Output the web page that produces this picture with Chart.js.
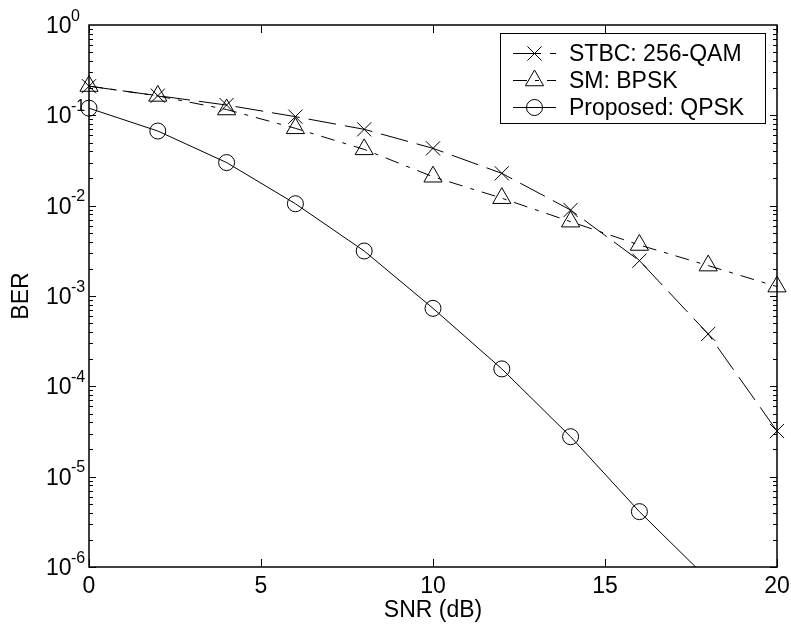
<!DOCTYPE html>
<html>
<head>
<meta charset="utf-8">
<title>BER vs SNR</title>
<script src="https://cdn.jsdelivr.net/npm/chart.js@4.4.1/dist/chart.umd.min.js"></script>
<style>
  html, body { margin: 0; padding: 0; background: #fff; }
  canvas { display: block; }
</style>
</head>
<body>
<canvas id="berChart" width="791" height="633"></canvas>
<script>
// SNR grid (dB) and BER curves
const snr = [0, 2, 4, 6, 8, 10, 12, 14, 16, 18, 20];
const snrProposed = [0, 2, 4, 6, 8, 10, 12, 14, 16, 18];
const berStbc = [0.21, 0.165, 0.13, 0.0966, 0.070, 0.0431, 0.0228, 0.00895, 0.00246, 3.8e-4, 3.2e-5];
const berSm = [0.211, 0.164, 0.116, 0.0718, 0.042, 0.0209, 0.0121, 0.00665, 0.00367, 0.00217, 0.00127];
const berProposed = [0.120, 0.067, 0.030, 0.0105, 0.00315, 7.3e-4, 1.56e-4, 2.77e-5, 4.1e-6, 7.3e-7];

const seriesLabels = ['STBC: 256-QAM', 'SM: BPSK', 'Proposed: QPSK'];
const xTickValues = [0, 5, 10, 15, 20];
const xTickLabels = ['0', '5', '10', '15', '20'];
const yTickExponents = [0, -1, -2, -3, -4, -5, -6];
const xTitle = 'SNR (dB)';
const yTitle = 'BER';

const FONT = '"Liberation Sans", Arial, Helvetica, sans-serif';

const clipArea = { left: 20, right: 20, top: 20, bottom: 0 };
const common = {
  borderColor: '#000',
  borderWidth: 1,
  pointBorderColor: '#000',
  pointBorderWidth: 1,
  pointBackgroundColor: 'rgba(0,0,0,0)',
  tension: 0,
  fill: false,
  clip: clipArea
};

const toPoints = (xs, ys) => xs.map((x, i) => ({ x, y: ys[i] }));

const datasets = [
  Object.assign({}, common, {
    label: seriesLabels[0],
    data: toPoints(snr, berStbc),
    borderDash: [28, 9],
    pointStyle: 'crossRot',
    pointRadius: 10
  }),
  Object.assign({}, common, {
    label: seriesLabels[1],
    data: toPoints(snr, berSm),
    borderDash: [14, 8, 4, 8],
    pointStyle: 'triangle',
    pointRadius: 10.5
  }),
  Object.assign({}, common, {
    label: seriesLabels[2],
    data: toPoints(snrProposed, berProposed),
    borderDash: [],
    pointStyle: 'circle',
    pointRadius: 8
  })
];

function drawMarker(ctx, style, x, y, r) {
  ctx.save();
  ctx.strokeStyle = '#000';
  ctx.lineWidth = 1;
  ctx.setLineDash([]);
  ctx.beginPath();
  if (style === 'circle') {
    ctx.arc(x, y, r, 0, Math.PI * 2);
  } else if (style === 'crossRot') {
    const d = r * Math.SQRT1_2;
    ctx.moveTo(x - d, y - d); ctx.lineTo(x + d, y + d);
    ctx.moveTo(x - d, y + d); ctx.lineTo(x + d, y - d);
  } else if (style === 'triangle') {
    const s = r * Math.sqrt(3) / 2;
    ctx.moveTo(x, y - r);
    ctx.lineTo(x + s, y + r / 2);
    ctx.lineTo(x - s, y + r / 2);
    ctx.closePath();
  }
  ctx.stroke();
  ctx.restore();
}

// MATLAB-style box axes: inward ticks on all sides, power-of-ten labels, inset legend
const boxAxes = {
  id: 'boxAxes',
  afterDraw(chart) {
    const { ctx, chartArea: a } = chart;
    const xs = chart.scales.x, ys = chart.scales.y;
    ctx.save();
    ctx.strokeStyle = '#000';
    ctx.fillStyle = '#000';
    ctx.lineWidth = 1;
    ctx.setLineDash([]);

    // ticks
    ctx.beginPath();
    xTickValues.forEach(v => {
      const px = Math.round(xs.getPixelForValue(v)) + 0.5;
      ctx.moveTo(px, a.bottom); ctx.lineTo(px, a.bottom - 8);
      ctx.moveTo(px, a.top); ctx.lineTo(px, a.top + 8);
    });
    yTickExponents.forEach(e => {
      if (e === 0) return;
      for (let m = 1; m <= 9; m++) {
        const py = Math.round(ys.getPixelForValue(m * Math.pow(10, e))) + 0.5;
        const len = m === 1 ? 7 : 4;
        ctx.moveTo(a.left, py); ctx.lineTo(a.left + len, py);
        ctx.moveTo(a.right, py); ctx.lineTo(a.right - len, py);
      }
    });
    ctx.stroke();

    // frame
    ctx.lineWidth = 1.5;
    ctx.strokeRect(a.left, a.top, a.right - a.left, a.bottom - a.top);

    // x tick labels
    ctx.font = '23px ' + FONT;
    ctx.textAlign = 'center';
    ctx.textBaseline = 'alphabetic';
    xTickValues.forEach((v, i) => {
      ctx.fillText(xTickLabels[i], xs.getPixelForValue(v), a.bottom + 26);
    });

    // y tick labels: 10 with superscript exponent
    yTickExponents.forEach(e => {
      const py = ys.getPixelForValue(Math.pow(10, e));
      ctx.font = '23px ' + FONT;
      ctx.textAlign = 'right';
      ctx.fillText('10', 71.5, py + 8);
      ctx.font = '16px ' + FONT;
      ctx.textAlign = 'left';
      ctx.fillText(String(e), 71, py - 4.5);
    });

    // axis titles
    ctx.font = '23px ' + FONT;
    ctx.textAlign = 'center';
    ctx.fillText(xTitle, (a.left + a.right) / 2, a.bottom + 50);
    ctx.save();
    ctx.translate(28, (a.top + a.bottom) / 2);
    ctx.rotate(-Math.PI / 2);
    ctx.fillText(yTitle, 0, 0);
    ctx.restore();

    // legend
    const box = { x: 500.5, y: 33.5, w: 265, h: 90 };
    ctx.fillStyle = '#fff';
    ctx.fillRect(box.x, box.y, box.w, box.h);
    ctx.lineWidth = 1;
    ctx.strokeStyle = '#000';
    ctx.strokeRect(box.x, box.y, box.w, box.h);
    const rowY = [53, 80, 106.5];
    chart.data.datasets.forEach((ds, i) => {
      const y = Math.round(rowY[i]) + 0.5;
      ctx.save();
      ctx.setLineDash(ds.borderDash || []);
      ctx.lineWidth = 1;
      ctx.beginPath();
      ctx.moveTo(513, y); ctx.lineTo(556, y);
      ctx.stroke();
      ctx.restore();
      drawMarker(ctx, ds.pointStyle, 534.5, y, ds.pointRadius);
      ctx.fillStyle = '#000';
      ctx.font = '23px ' + FONT;
      ctx.textAlign = 'left';
      ctx.fillText(ds.label, 569, rowY[i] + 8);
    });
    ctx.restore();
  }
};

new Chart(document.getElementById('berChart'), {
  type: 'line',
  data: { datasets },
  options: {
    responsive: false,
    animation: false,
    events: [],
    layout: { padding: { left: 89, right: 14, top: 25, bottom: 66 } },
    scales: {
      x: { type: 'linear', min: 0, max: 20, display: false },
      y: { type: 'logarithmic', min: 1e-6, max: 1, display: false }
    },
    plugins: {
      legend: { display: false },
      tooltip: { enabled: false }
    }
  },
  plugins: [boxAxes]
});
</script>
</body>
</html>
